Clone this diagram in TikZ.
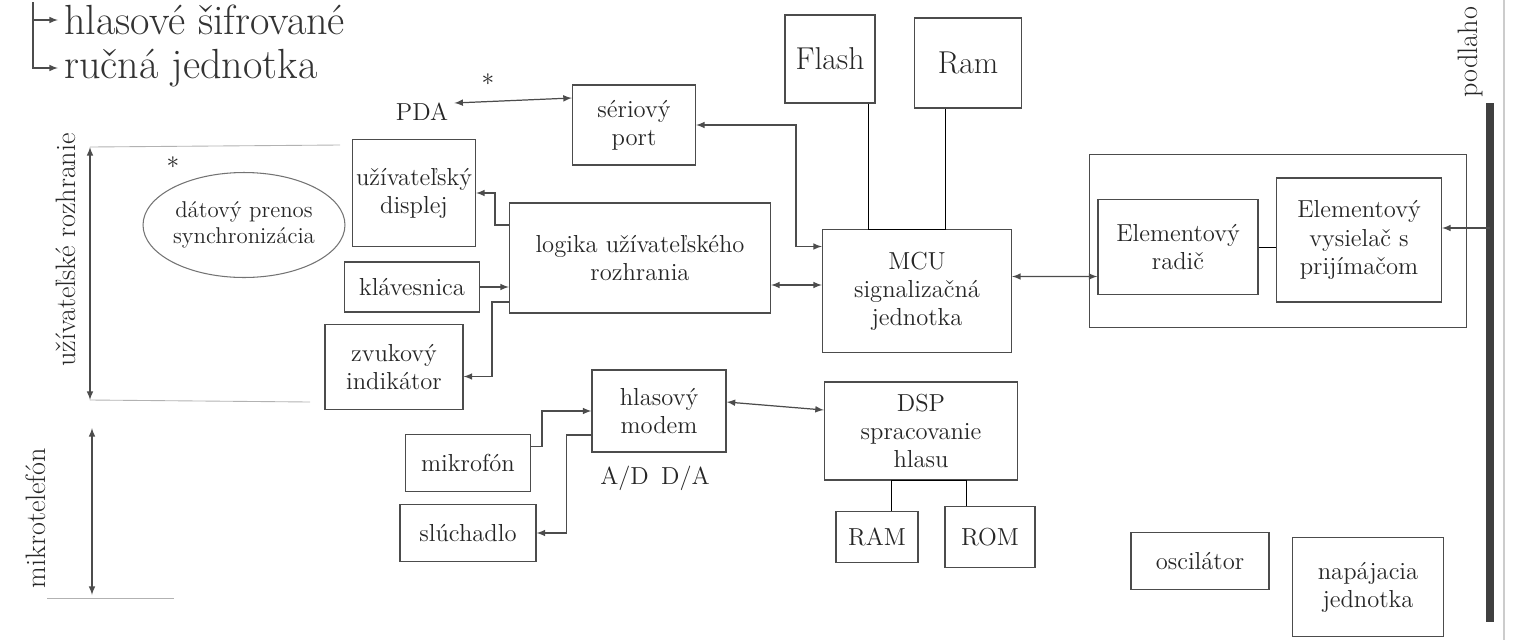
\documentclass[tikz,border=0pt]{standalone}
\usepackage{tikz}
\usetikzlibrary{shapes,arrows,positioning,arrows.meta,calc}
\newcommand{\boxfont}{\fontsize{14}{16}\selectfont}
\newcommand{\blobfont}{\fontsize{13}{15}\selectfont}
\newcommand{\bigfont}{\fontsize{18}{20}\selectfont}
\newcommand{\headfont}{\fontsize{24}{26}\selectfont}
\newcommand{\sidefont}{\fontsize{16}{18}\selectfont}

\begin{document}
\begin{tikzpicture}[
    x=0.02cm, y=-0.02cm,
    block/.style={rectangle, draw=black!70, line width=0.7pt, align=center,
      font=\boxfont, text=black!85, inner sep=2pt},
    blob/.style={ellipse, draw=black!55, line width=0.6pt, align=center,
      font=\blobfont, text=black!85, inner sep=-1pt},
    link/.style={-latex, draw=black!70, line width=0.7pt},
    twoway/.style={latex-latex, draw=black!70, line width=0.7pt},
    faint/.style={draw=black!30, line width=0.5pt},
    note/.style={font=\boxfont, text=black!85},
    head/.style={font=\headfont, text=black!80, anchor=west},
    side/.style={font=\sidefont, text=black!85, rotate=90}
  ]
  \useasboundingbox (0,0) rectangle (1519,640);
  \node[head] (title1) at (58,20) {hlasové šifrované};
  \node[head] (title2) at (58,68) {ručná jednotka};
  \coordinate (tbrace) at (33,2);
  \draw[link] (tbrace) |- (title1.west);
  \draw[link] (tbrace) |- (title2.west);
  \node[block, minimum width=2.46cm, minimum height=1.6cm] (serport) at (634,125) {sériový\\port};
  \node[block, minimum width=1.8cm, minimum height=1.76cm, font=\bigfont] (flash) at (830,59) {Flash};
  \node[block, minimum width=2.14cm, minimum height=1.8cm, font=\bigfont] (ram) at (968,63) {Ram};
  \node[block, minimum width=5.22cm, minimum height=2.2cm] (logic) at (640,258) {logika užívateľského\\rozhrania};
  \node[block, minimum width=3.78cm, minimum height=2.46cm] (mcu) at (917,291) {MCU\\signalizačná\\jednotka};
  \node[block, minimum width=2.44cm, minimum height=2.14cm] (display) at (414,193) {užívateľský\\displej};
  \node[block, minimum width=2.7cm, minimum height=1cm] (keyboard) at (412,287) {klávesnica};
  \node[block, minimum width=2.76cm, minimum height=1.7cm] (indicator) at (394,367) {zvukový\\indikátor};
  \node[blob, minimum width=4.04cm, minimum height=2.1cm] (sync) at (244,225) {dátový prenos\\synchronizácia};
  \node[block, minimum width=2.68cm, minimum height=1.64cm] (modem) at (659,411) {hlasový\\modem};
  \node[note] (adda) at (655,478) {A/D\enspace D/A};
  \node[block, minimum width=2.5cm, minimum height=1.14cm] (mikrofon) at (468,463) {mikrofón};
  \node[block, minimum width=2.72cm, minimum height=1.14cm] (sluchadlo) at (468,533) {slúchadlo};
  \node[block, minimum width=3.86cm, minimum height=1.96cm] (dsp) at (921,431) {DSP\\spracovanie\\hlasu};
  \node[block, minimum width=1.64cm, minimum height=1.02cm] (dspram) at (877,537) {RAM};
  \node[block, minimum width=1.8cm, minimum height=1.22cm] (dsprom) at (990,537) {ROM};
  \node[block, minimum width=2.76cm, minimum height=1.14cm] (osc) at (1200,561) {oscilátor};
  \node[block, minimum width=3.02cm, minimum height=1.98cm] (power) at (1368,587) {napájacia\\jednotka};
  \node[block, minimum width=7.54cm, minimum height=3.46cm] (radio) at (1278,241) {};
  \node[block, minimum width=3.2cm, minimum height=1.9cm] (driver) at (1178,247) {Elementový\\radič};
  \node[block, minimum width=3.3cm, minimum height=2.48cm] (trans) at (1359,240) {Elementový\\vysielač s\\prijímačom};
  \node[note] (pda) at (422,112) {PDA};
  \node[note, font=\Large] (star1) at (488,80) {$\ast$};
  \node[note, font=\Large] (star2) at (173,163) {$\ast$};
  \node[side] (uilabel) at (66,250) {užívateľské rozhranie};
  \node[side] (mtlabel) at (36,518) {mikrotelefón};
  \node[side] (padlabel) at (1470,52) {podlaho};
  \coordinate (uitop) at (90,147);
  \coordinate (uibot) at (90,400);
  \coordinate (uitopend) at (340,145);
  \coordinate (uibotend) at (310,402);
  \draw[twoway] (uitop) -- (uibot);
  \draw[faint] (uitop) -- (uitopend);
  \draw[faint] (uibot) -- (uibotend);
  \coordinate (mttop) at (92,428);
  \coordinate (mtbot) at (92,595);
  \coordinate (mtleft) at (47,598);
  \coordinate (mtright) at (174,598);
  \draw[twoway] (mttop) -- (mtbot);
  \draw[faint] (mtleft) -- (mtright);
  \coordinate (bartop) at (1490,103);
  \coordinate (barbot) at (1490,622);
  \coordinate (edgetop) at (1504,0);
  \coordinate (edgebot) at (1504,640);
  \draw[black!20, line width=0.6pt] (edgetop) -- (edgebot);
  \draw[black!75, line width=4pt] (bartop) -- (barbot);
  \coordinate (feed) at (1490,228);
  \draw[link] (feed) -- (feed -| trans.east);
  \draw[twoway] ([yshift=0.18cm]pda.east) -- ([yshift=0.54cm]serport.west);
  \draw[twoway] (serport.east) -- ++(100,0) |- ([yshift=0.89cm]mcu.west);
  \coordinate (lm) at ([yshift=-0.54cm]logic.east);
  \draw[twoway] (lm) -- (lm -| mcu.west);
  \draw ([xshift=0.76cm]flash.south) |- (mcu.north);
  \draw ([xshift=-0.46cm]ram.south) |- (mcu.north);
  \draw[twoway] ([yshift=0.29cm]mcu.east) -- ([yshift=-0.59cm]driver.west);
  \draw (driver.east) -- (driver.east -| trans.west);
  \draw[link] ([yshift=0.66cm]logic.west) -- ++(-14,0) |- (display.east);
  \draw[link] (keyboard.east) -- (keyboard.east -| logic.west);
  \draw[link] ([yshift=-0.88cm]logic.west) -- ++(-17,0) |- ([yshift=-0.19cm]indicator.east);
  \draw[link] ([yshift=0.33cm]mikrofon.east) -- ++(11,0) |- (modem.west);
  \draw[link] ([yshift=-0.48cm]modem.west) -- ++(-25,0) |- (sluchadlo.east);
  \draw[twoway] ([yshift=0.18cm]modem.east) -- ([yshift=0.42cm]dsp.west);
  \draw ([xshift=0.28cm]dspram.north) |- (dsp.south);
  \draw ([xshift=-0.48cm]dsprom.north) |- (dsp.south);
\end{tikzpicture}
\end{document}
